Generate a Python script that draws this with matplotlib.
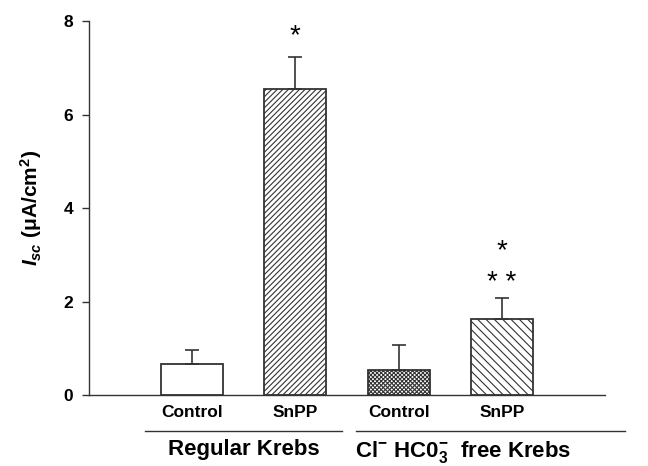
import matplotlib
matplotlib.use("Agg")
import matplotlib.pyplot as plt

plt.rcParams['font.family'] = ['Liberation Sans', 'DejaVu Sans']
plt.rcParams['font.weight'] = 'bold'
plt.rcParams['mathtext.fontset'] = 'custom'
plt.rcParams['mathtext.rm'] = 'Liberation Sans:bold'
plt.rcParams['mathtext.it'] = 'Liberation Sans:italic:bold'
plt.rcParams['mathtext.bf'] = 'Liberation Sans:bold'
plt.rcParams['mathtext.default'] = 'rm'
plt.rcParams['hatch.linewidth'] = 0.8

# data
tick_labels = ["Control", "SnPP", "Control", "SnPP"]
values = [0.66, 6.55, 0.53, 1.63]
errors = [0.30, 0.68, 0.54, 0.44]
hatches = ["", "//////", "xxxxxxxx", "\\\\\\\\"]
group_labels = ["Regular Krebs", "Cl$^{-}$ HC0$_{3}^{-}$  free Krebs"]

positions = [1, 2, 3, 4]

fig = plt.figure(figsize=(6.48, 4.66), dpi=100)
ax = fig.add_axes([0.137, 0.152, 0.797, 0.803])

for p, v, e, h in zip(positions, values, errors, hatches):
    ax.bar(p, v, width=0.6, color='white', edgecolor='#333333', hatch=h, linewidth=1.3, zorder=2)
    ax.errorbar(p, v, yerr=[[0], [e]], fmt='none', ecolor='#333333', elinewidth=1.2,
                capsize=5, capthick=1.2, zorder=3)

ax.set_xlim(0, 5)
ax.set_ylim(0, 8)
ax.set_yticks([0, 2, 4, 6, 8])
ax.set_yticklabels(['0', '2', '4', '6', '8'], fontsize=12.5, fontweight='bold')
ax.set_xticks(positions)
ax.set_xticklabels(tick_labels, fontsize=12.5, fontweight='bold')
ax.tick_params(axis='x', length=0, pad=7)
ax.tick_params(axis='y', length=5, width=1, direction='out', color='#333333', pad=6)
for s in ['top', 'right']:
    ax.spines[s].set_visible(False)
ax.spines['left'].set_color('#333333')
ax.spines['bottom'].set_color('#333333')
ax.spines['left'].set_linewidth(1)
ax.spines['bottom'].set_linewidth(1)

ax.set_ylabel("$\\mathit{I}_{\\mathit{sc}}$ (\u03bcA/cm$^{2}$)", fontsize=15, fontweight='bold', labelpad=14)

# significance stars
ax.text(2, values[1] + errors[1] + 0.17, "*", ha='center', va='bottom', fontsize=20, fontweight='normal')
ax.text(4, values[3] + errors[3] + 0.72, "*", ha='center', va='bottom', fontsize=20, fontweight='normal')
ax.text(4, values[3] + errors[3] + 0.05, "* *", ha='center', va='bottom', fontsize=20, fontweight='normal')

# group lines and labels
trans = ax.get_xaxis_transform()
ax.plot([0.54, 2.45], [-0.095, -0.095], transform=trans, color='#333333', lw=1, clip_on=False)
ax.plot([2.59, 5.19], [-0.095, -0.095], transform=trans, color='#333333', lw=1, clip_on=False)
ax.text(1.5, -0.118, group_labels[0], transform=trans, ha='center', va='top', fontsize=16, fontweight='bold')
ax.text(3.62, -0.118, group_labels[1], transform=trans, ha='center', va='top', fontsize=16, fontweight='bold')

fig.savefig("out.png", dpi=100)
